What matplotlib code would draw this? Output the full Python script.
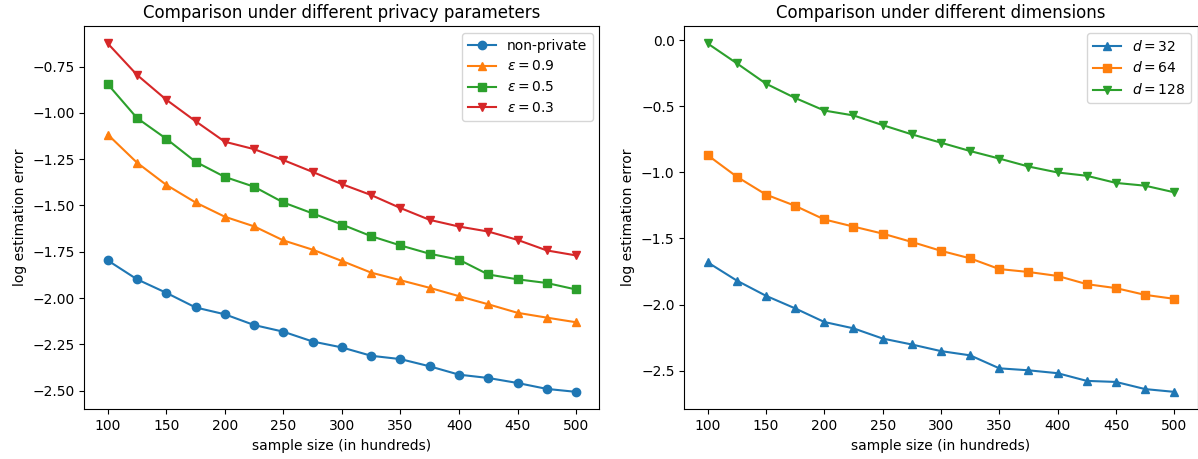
import matplotlib
matplotlib.use("Agg")
import matplotlib.pyplot as plt

# sample sizes (hundreds)
n = [100, 125, 150, 175, 200, 225, 250, 275, 300, 325, 350, 375, 400, 425, 450, 475, 500]

# left panel: privacy levels
err_nonpriv = [-1.797, -1.899, -1.972, -2.051, -2.088, -2.146, -2.182, -2.235, -2.267,
               -2.312, -2.330, -2.369, -2.414, -2.432, -2.459, -2.491, -2.507]
err_eps09 = [-1.117, -1.269, -1.389, -1.484, -1.561, -1.613, -1.689, -1.739, -1.800,
             -1.863, -1.904, -1.945, -1.990, -2.034, -2.080, -2.106, -2.131]
err_eps05 = [-0.845, -1.028, -1.140, -1.264, -1.346, -1.399, -1.484, -1.543, -1.603,
             -1.666, -1.716, -1.761, -1.793, -1.873, -1.899, -1.919, -1.954]
err_eps03 = [-0.625, -0.795, -0.929, -1.045, -1.156, -1.196, -1.255, -1.319, -1.385,
             -1.444, -1.514, -1.578, -1.614, -1.641, -1.686, -1.743, -1.770]

# right panel: dimensions
err_d32 = [-1.680, -1.818, -1.933, -2.028, -2.131, -2.179, -2.256, -2.301, -2.351,
           -2.383, -2.481, -2.496, -2.518, -2.576, -2.584, -2.638, -2.659]
err_d64 = [-0.870, -1.033, -1.168, -1.253, -1.356, -1.410, -1.463, -1.526, -1.593,
           -1.650, -1.731, -1.753, -1.783, -1.845, -1.875, -1.926, -1.956]
err_d128 = [-0.026, -0.176, -0.330, -0.438, -0.533, -0.570, -0.643, -0.713, -0.776,
            -0.839, -0.896, -0.956, -1.001, -1.026, -1.080, -1.101, -1.151]

fig = plt.figure(figsize=(11.98, 4.59), dpi=100)
ax1 = fig.add_axes([0.0704, 0.1083, 0.430, 0.835])
ax2 = fig.add_axes([0.5712, 0.1083, 0.4285, 0.835])

ax1.plot(n, err_nonpriv, marker="o", label="non-private")
ax1.plot(n, err_eps09, marker="^", label=r"$\varepsilon = 0.9$")
ax1.plot(n, err_eps05, marker="s", label=r"$\varepsilon = 0.5$")
ax1.plot(n, err_eps03, marker="v", label=r"$\varepsilon = 0.3$")
ax1.set_title("Comparison under different privacy parameters")
ax1.set_xlabel("sample size (in hundreds)")
ax1.set_ylabel("log estimation error")
ax1.legend(loc="upper right")

ax2.plot(n, err_d32, marker="^", label=r"$d = 32$")
ax2.plot(n, err_d64, marker="s", label=r"$d = 64$")
ax2.plot(n, err_d128, marker="v", label=r"$d = 128$")
ax2.set_title("Comparison under different dimensions")
ax2.set_xlabel("sample size (in hundreds)")
ax2.set_ylabel("log estimation error")
ax2.legend(loc="upper right")

for ax in (ax1, ax2):
    ax.set_xticks([100, 150, 200, 250, 300, 350, 400, 450, 500])

fig.savefig("out.png")
